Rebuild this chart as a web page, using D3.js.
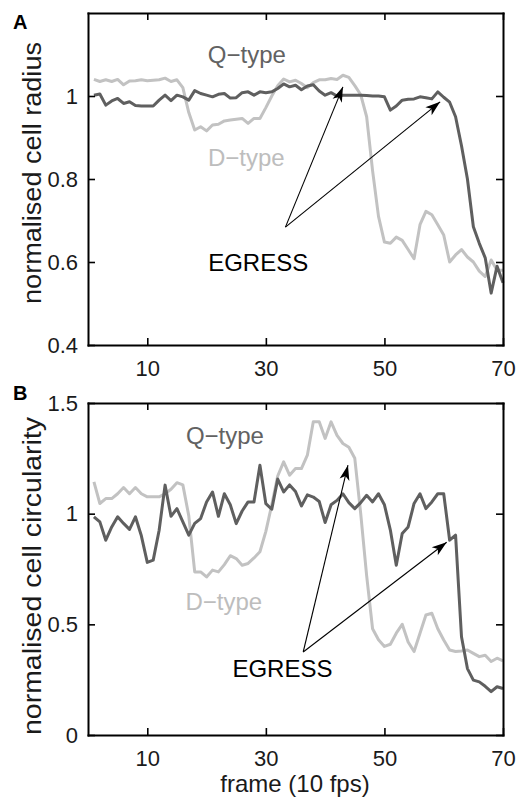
<!DOCTYPE html>
<html>
<head>
<meta charset="utf-8">
<script src="https://cdn.jsdelivr.net/npm/d3@7"></script>
<style>
  body { margin: 0; background: #fff; }
  text { font-family: "Liberation Sans", Arial, Helvetica, sans-serif; }
</style>
</head>
<body>
<div id="chart"></div>
<script>
// frame numbers (10 fps)
var frames = d3.range(1, 71);
var xTicks = [10, 30, 50, 70];

// panel A: normalised cell radius
var radiusQ = [1.002, 1.005, 0.978, 0.988, 0.994, 0.982, 0.986, 0.977, 0.976, 0.976,
               0.976, 0.990, 1.002, 0.989, 1.002, 0.998, 0.990, 1.013, 1.006, 1.002,
               0.998, 1.004, 1.006, 0.995, 0.996, 1.008, 1.010, 1.002, 1.010, 1.008,
               1.010, 1.018, 1.029, 1.022, 1.026, 1.015, 1.024, 1.027, 1.012, 1.002,
               1.008, 1.000, 1.002, 1.002, 1.002, 1.002, 1.001, 1.000, 1.000, 0.998,
               0.966, 0.976, 0.990, 0.992, 0.993, 0.998, 0.996, 0.993, 1.010, 0.997,
               0.985, 0.950, 0.880, 0.800, 0.685, 0.645, 0.610, 0.525, 0.590, 0.550];
var radiusD = [1.040, 1.035, 1.039, 1.035, 1.040, 1.027, 1.036, 1.037, 1.039, 1.037,
               1.038, 1.039, 1.043, 1.035, 1.039, 1.020, 0.960, 0.918, 0.926, 0.916,
               0.930, 0.932, 0.940, 0.942, 0.944, 0.946, 0.934, 0.946, 0.946, 0.972,
               1.000, 1.025, 1.041, 1.034, 1.038, 1.030, 1.020, 1.032, 1.039, 1.039,
               1.042, 1.040, 1.050, 1.045, 1.025, 1.003, 0.950, 0.820, 0.710, 0.648,
               0.645, 0.660, 0.652, 0.630, 0.608, 0.690, 0.722, 0.714, 0.690, 0.665,
               0.600, 0.617, 0.630, 0.612, 0.600, 0.578, 0.565, 0.605, 0.580, 0.580];
var radiusTicks = [0.4, 0.6, 0.8, 1];

// panel B: normalised cell circularity
var circQ = [0.986, 0.963, 0.880, 0.940, 0.986, 0.956, 0.929, 0.986, 0.900, 0.780,
             0.790, 0.925, 1.129, 0.988, 1.023, 0.963, 0.903, 0.956, 0.978, 1.053,
             1.098, 0.988, 1.090, 1.040, 0.955, 1.012, 1.053, 1.053, 1.219, 1.045,
             1.020, 1.156, 1.098, 1.130, 1.100, 1.035, 1.085, 1.075, 1.055, 0.960,
             1.040, 1.060, 1.090, 1.050, 1.023, 1.050, 1.083, 1.053, 1.090, 1.040,
             0.926, 0.767, 0.910, 0.940, 1.046, 1.090, 1.023, 1.053, 1.090, 1.090,
             0.880, 0.903, 0.444, 0.300, 0.248, 0.240, 0.220, 0.196, 0.218, 0.210];
var circD = [1.144, 1.046, 1.068, 1.068, 1.090, 1.118, 1.090, 1.118, 1.090, 1.076,
             1.076, 1.076, 1.090, 1.110, 1.140, 1.130, 0.990, 0.737, 0.737, 0.714,
             0.745, 0.737, 0.770, 0.810, 0.797, 0.767, 0.775, 0.800, 0.828, 0.920,
             1.040, 1.170, 1.234, 1.174, 1.204, 1.204, 1.264, 1.415, 1.415, 1.340,
             1.415, 1.354, 1.317, 1.300, 1.250, 1.000, 0.720, 0.480, 0.430, 0.400,
             0.410, 0.460, 0.500, 0.420, 0.377, 0.460, 0.542, 0.550, 0.480, 0.429,
             0.384, 0.377, 0.380, 0.384, 0.369, 0.354, 0.360, 0.332, 0.347, 0.335];
var circTicks = [0, 0.5, 1, 1.5];

var colQ = "#5f5f5f",
    colD = "#c2c2c2";

var w = 528,
    h = 797;

var svg = d3.select("#chart")
            .append("svg")
            .attr("width", w)
            .attr("height", h)
            .style("background-color", "white");

// arrow head, matlab style
svg.append("defs").append("marker")
    .attr("id", "head")
    .attr("viewBox", "-16 -6 17 12")
    .attr("refX", 0)
    .attr("refY", 0)
    .attr("markerWidth", 17)
    .attr("markerHeight", 12)
    .attr("markerUnits", "userSpaceOnUse")
    .attr("orient", "auto")
  .append("path")
    .attr("d", "M0,0 L-15,-5 L-11,0 L-15,5 Z")
    .attr("fill", "#000");

var x = d3.scaleLinear()
        .domain([0, 70])
        .range([88, 503]);

function drawPanel(p) {
    var y = d3.scaleLinear()
            .domain(p.yDomain)
            .range([p.bottom, p.top]);

    var g = svg.append("g");

    var line = d3.line()
        .x(function (d, i) { return x(frames[i]); })
        .y(function (d) { return y(d); });

    g.append("path")
        .datum(p.dType)
        .attr("d", line)
        .attr("fill", "none")
        .attr("stroke", colD)
        .attr("stroke-width", 3)
        .attr("stroke-linejoin", "round");

    g.append("path")
        .datum(p.qType)
        .attr("d", line)
        .attr("fill", "none")
        .attr("stroke", colQ)
        .attr("stroke-width", 3)
        .attr("stroke-linejoin", "round");

    // box with inward ticks on all four sides
    var axes = [
        {ax: d3.axisBottom(x).tickValues(xTicks).tickPadding(15), t: "translate(0," + p.bottom + ")"},
        {ax: d3.axisTop(x).tickValues(xTicks).tickFormat(""), t: "translate(0," + p.top + ")"},
        {ax: d3.axisLeft(y).tickValues(p.yTicks).tickPadding(10).tickFormat(function (d) { return String(d); }), t: "translate(88,0)"},
        {ax: d3.axisRight(y).tickValues(p.yTicks).tickFormat(""), t: "translate(503,0)"}
    ];
    axes.forEach(function (a) {
        var ag = g.append("g")
            .attr("transform", a.t)
            .call(a.ax.tickSizeInner(-7).tickSizeOuter(0));
        ag.select(".domain")
            .attr("stroke", "#000")
            .attr("stroke-width", 2)
            .attr("stroke-linecap", "square");
        ag.selectAll(".tick line")
            .attr("stroke", "#000")
            .attr("stroke-width", 1.6);
        ag.selectAll("text")
            .attr("fill", "#1a1a1a")
            .style("font-size", "22px");
    });

    // y title
    g.append("text")
        .attr("transform", "translate(41," + p.titleY + ") rotate(-90)")
        .attr("text-anchor", "middle")
        .attr("fill", "#1a1a1a")
        .attr("textLength", p.titleLen)
        .attr("lengthAdjust", "spacingAndGlyphs")
        .style("font-size", "25px")
        .text(p.title);

    // panel letter
    g.append("text")
        .attr("x", 13)
        .attr("y", p.top + p.letterDy)
        .attr("fill", "#000")
        .style("font-size", "20px")
        .style("font-weight", "bold")
        .text(p.letter);

    // series labels
    p.labels.forEach(function (l) {
        g.append("text")
            .attr("x", x(l.f))
            .attr("y", y(l.v))
            .attr("text-anchor", "middle")
            .attr("fill", l.color)
            .style("font-size", "24px")
            .text(l.text);
    });

    // EGRESS arrows
    p.arrows.forEach(function (a) {
        g.append("line")
            .attr("x1", x(p.arrowFrom[0]))
            .attr("y1", y(p.arrowFrom[1]))
            .attr("x2", x(a[0]))
            .attr("y2", y(a[1]))
            .attr("stroke", "#000")
            .attr("stroke-width", 1.1)
            .attr("marker-end", "url(#head)");
    });
}

drawPanel({
    top: 13, bottom: 345,
    yDomain: [0.4, 1.2], yTicks: radiusTicks,
    qType: radiusQ, dType: radiusD,
    title: "normalised cell radius", titleY: 173, titleLen: 262,
    letter: "A", letterDy: 16,
    labels: [
        {text: "Q\u2212type", f: 26.8, v: 1.0795, color: "#626262"},
        {text: "D\u2212type", f: 26.7, v: 0.831, color: "#bdbdbd"},
        {text: "EGRESS", f: 28.7, v: 0.579, color: "#000"}
    ],
    arrowFrom: [33.3, 0.684],
    arrows: [[43.0, 1.022], [59.4, 0.986]]
});

drawPanel({
    top: 403, bottom: 735,
    yDomain: [0, 1.5], yTicks: circTicks,
    qType: circQ, dType: circD,
    title: "normalised cell circularity", titleY: 576, titleLen: 318,
    letter: "B", letterDy: -3,
    labels: [
        {text: "Q\u2212type", f: 23.1, v: 1.317, color: "#626262"},
        {text: "D\u2212type", f: 22.9, v: 0.564, color: "#bdbdbd"},
        {text: "EGRESS", f: 32.8, v: 0.263, color: "#000"}
    ],
    arrowFrom: [36.3, 0.375],
    arrows: [[43.85, 1.219], [60.5, 0.871]]
});

// x title
svg.append("text")
    .attr("x", 295)
    .attr("y", 792)
    .attr("text-anchor", "middle")
    .attr("fill", "#1a1a1a")
    .style("font-size", "24px")
    .text("frame (10 fps)");
</script>
</body>
</html>
